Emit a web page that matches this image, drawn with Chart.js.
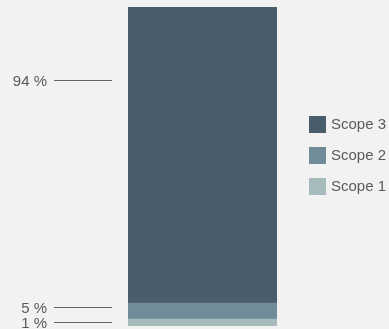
<!DOCTYPE html>
<html>
<head>
<meta charset="utf-8">
<script src="https://cdn.jsdelivr.net/npm/chart.js@4"></script>
<style>
  html, body { margin: 0; padding: 0; background: #f2f2f2; }
  #wrap { width: 389px; height: 329px; position: relative; }
</style>
</head>
<body>
<div id="wrap"><canvas id="chart"></canvas></div>
<script>
// stacked from bottom to top
const categories = ['Emissions'];
const seriesNames = ['Scope 1', 'Scope 2', 'Scope 3'];
const seriesValues = [2.2, 5.0, 92.8];
const valueLabels = ['1 %', '5 %', '94 %'];
const colors = ['#a8bbbc', '#6f8c98', '#4a5d6a'];

// where each label's leader line sits, in axis units
const labelAnchors = [1.4, 5.8, 77];

const leaderPlugin = {
  id: 'leaders',
  afterDraw(chart) {
    const ctx = chart.ctx;
    const y = chart.scales.y;
    ctx.save();
    ctx.font = '15px "Liberation Sans", Arial, sans-serif';
    ctx.fillStyle = '#5a5a5a';
    ctx.strokeStyle = '#666';
    ctx.lineWidth = 1.2;
    ctx.textAlign = 'right';
    ctx.textBaseline = 'middle';
    valueLabels.forEach((txt, i) => {
      const py = Math.round(y.getPixelForValue(labelAnchors[i])) + 0.5;
      ctx.beginPath();
      ctx.moveTo(54, py);
      ctx.lineTo(112, py);
      ctx.stroke();
      ctx.fillText(txt, 47, py + 1);
    });

    // legend, top entry is the top of the stack
    ctx.textAlign = 'left';
    const ds = chart.data.datasets.slice().reverse();
    ds.forEach((d, i) => {
      const top = 116 + i * 31;
      ctx.fillStyle = d.backgroundColor;
      ctx.fillRect(309, top, 17, 17);
      ctx.fillStyle = '#5a5a5a';
      ctx.fillText(d.label, 331, top + 9);
    });
    ctx.restore();
  }
};

new Chart(document.getElementById('chart'), {
  type: 'bar',
  data: {
    labels: categories,
    datasets: seriesNames.map((name, i) => ({
      label: name,
      data: [seriesValues[i]],
      backgroundColor: colors[i],
      borderWidth: 0,
      barPercentage: 1,
      categoryPercentage: 1
    }))
  },
  options: {
    responsive: true,
    maintainAspectRatio: false,
    animation: false,
    layout: { padding: { left: 128, right: 112, top: 7, bottom: 3 } },
    plugins: { legend: { display: false }, tooltip: { enabled: false } },
    scales: {
      x: { stacked: true, display: false },
      y: { stacked: true, display: false, min: 0, max: 100 }
    }
  },
  plugins: [leaderPlugin]
});
</script>
</body>
</html>
